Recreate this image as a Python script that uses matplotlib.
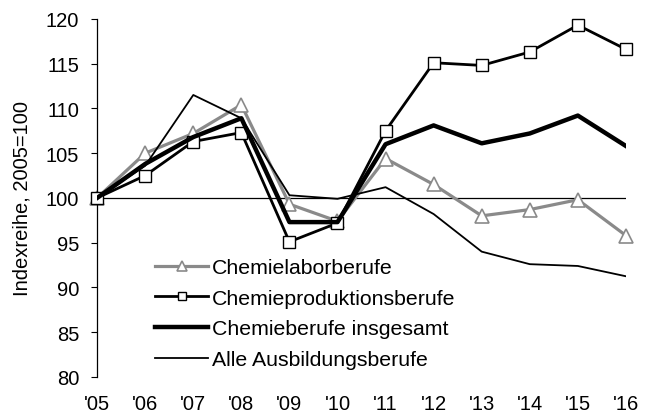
import matplotlib
matplotlib.use("Agg")
import matplotlib.pyplot as plt

plt.rcParams['font.family'] = ['Liberation Sans', 'DejaVu Sans']

years = ["'05", "'06", "'07", "'08", "'09", "'10", "'11", "'12", "'13", "'14", "'15", "'16"]
labor = [100, 105.0, 107.2, 110.4, 99.3, 97.4, 104.4, 101.5, 98.0, 98.7, 99.8, 95.8]
produktion = [100, 102.5, 106.3, 107.3, 95.1, 97.2, 107.5, 115.1, 114.8, 116.3, 119.3, 116.6]
insgesamt = [100, 103.8, 106.8, 108.9, 97.3, 97.3, 106.0, 108.1, 106.1, 107.2, 109.2, 105.8]
alle = [100, 103.6, 111.5, 108.9, 100.3, 99.9, 101.2, 98.2, 94.0, 92.6, 92.4, 91.25]

x = list(range(len(years)))

fig = plt.figure(figsize=(6.52, 4.14), dpi=100)
ax = fig.add_axes([0.149, 0.087, 0.811, 0.865])

# reference line at 100 (the x axis in the original)
ax.plot([x[0], x[-1]], [100, 100], color='black', lw=0.9, zorder=1)

ax.plot(x, labor, color='#8a8a8a', lw=2.3, marker='^', ms=10, mfc='white',
        mec='#8a8a8a', mew=1.2, label='Chemielaborberufe', zorder=2, clip_on=False)
ax.plot(x, produktion, color='black', lw=2.0, marker='s', ms=9, mfc='white',
        mec='black', mew=1.0, label='Chemieproduktionsberufe', zorder=3, clip_on=False)
ax.plot(x, insgesamt, color='black', lw=3.2, label='Chemieberufe insgesamt', zorder=4)
ax.plot(x, alle, color='black', lw=1.3, label='Alle Ausbildungsberufe', zorder=5)

ax.set_xlim(0, 11)
ax.set_ylim(80, 120)
ax.set_yticks(range(80, 121, 5))
ax.set_xticks(x)
ax.set_xticklabels(years)
ax.tick_params(axis='x', length=0, pad=12, labelsize=14.5)
ax.tick_params(axis='y', direction='out', length=4, width=0.8, pad=9, labelsize=14.5)

for s in ['top', 'right', 'bottom']:
    ax.spines[s].set_visible(False)
ax.spines['left'].set_linewidth(0.9)

ax.set_ylabel('Indexreihe, 2005=100', fontsize=14.5, labelpad=10)

ax.legend(loc='upper left', bbox_to_anchor=(0.09, 0.362), frameon=False,
          fontsize=15.3, handlelength=2.5, handletextpad=0.15, labelspacing=0.55,
          borderpad=0, markerscale=0.7)

fig.savefig('out.png', dpi=100)
